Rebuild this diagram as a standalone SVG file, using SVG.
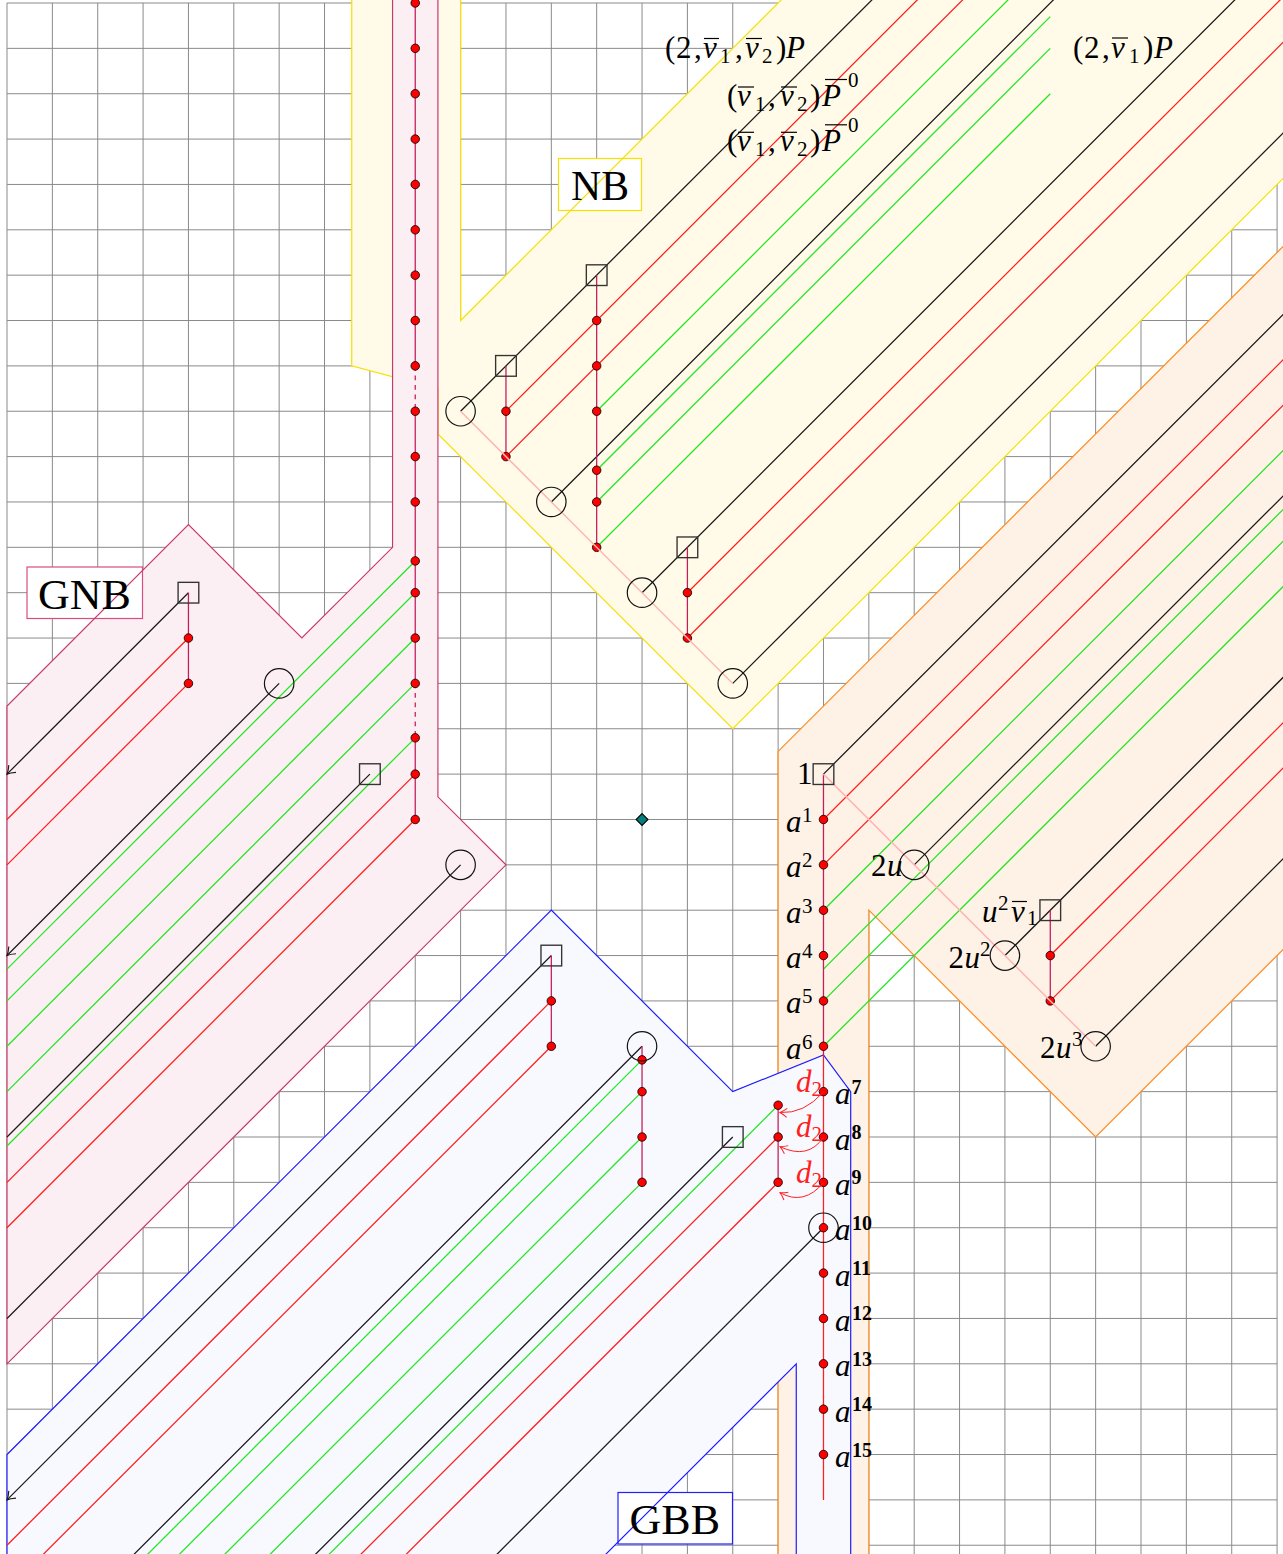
<svg xmlns="http://www.w3.org/2000/svg" width="1283" height="1554" viewBox="0 0 1283 1554">
<style>
.gr{fill:none;stroke:#8a8a8a;stroke-width:0.022px}
.regs{fill:none;stroke-width:0.026px;stroke-linejoin:miter}
.ln path{fill:none;stroke-width:0.028px}
.k{stroke:#1a1a1a}
.r{stroke:#ff1f1f}
.g{stroke:#22e622}
.v{fill:none;stroke:#c41e5a;stroke-width:0.032px}
.vr{fill:none;stroke:#ff2020;stroke-width:0.028px}
.pk{fill:none;stroke:#ffb4b4;stroke-width:0.032px}
.dot{fill:#ff0000;stroke:#000;stroke-width:0.018px}
.sq{fill:none;stroke:#333;stroke-width:0.03px}
.ci{fill:none;stroke:#111;stroke-width:0.026px}
.t{font-family:"Liberation Serif","Times New Roman",serif;font-size:31px;fill:#000}
.i{font-style:italic}
.s{font-size:21px;font-style:normal}
.b{font-size:20px;font-weight:bold;font-style:normal}
.big{font-size:43px}
.bar{stroke:#000;stroke-width:1.2}
.red{fill:#ff2020}
</style>
<defs>
<circle id="d" r="0.094"/>
<rect id="q" x="-0.228" y="-0.228" width="0.456" height="0.456"/>
<circle id="o" r="0.325"/>
<marker id="ak" viewBox="-9 -6 11 12" refX="0" refY="0" markerWidth="11" markerHeight="12" orient="auto" markerUnits="strokeWidth" overflow="visible">
<path d="M-6,-4 Q-2.6,-1 0,0 Q-2.6,1 -6,4" fill="none" stroke="#1a1a1a" stroke-width="0.9"/>
</marker>
<marker id="ar" viewBox="-9 -6 11 12" refX="0" refY="0" markerWidth="11" markerHeight="12" orient="auto" markerUnits="strokeWidth" overflow="visible">
<path d="M-7,-4.5 Q-3,-1.2 0,0 Q-3,1.2 -7,4.5" fill="none" stroke="#ff2020" stroke-width="1"/>
</marker>
</defs>
<rect width="1283" height="1554" fill="#ffffff"/>
<g id="layer1" transform="translate(7 3) scale(45.36)">
<path id="grid" class="gr" d="M0 0V34.3M1 0V34.3M2 0V34.3M3 0V34.3M4 0V34.3M5 0V34.3M6 0V34.3M7 0V34.3M8 0V34.3M9 0V34.3M10 0V34.3M11 0V34.3M12 0V34.3M13 0V34.3M14 0V34.3M15 0V34.3M16 0V34.3M17 0V34.3M18 0V34.3M19 0V34.3M20 0V34.3M21 0V34.3M22 0V34.3M23 0V34.3M24 0V34.3M25 0V34.3M26 0V34.3M27 0V34.3M28 0V34.3M0 0H28M0 1H28M0 2H28M0 3H28M0 4H28M0 5H28M0 6H28M0 7H28M0 8H28M0 9H28M0 10H28M0 11H28M0 12H28M0 13H28M0 14H28M0 15H28M0 16H28M0 17H28M0 18H28M0 19H28M0 20H28M0 21H28M0 22H28M0 23H28M0 24H28M0 25H28M0 26H28M0 27H28M0 28H28M0 29H28M0 30H28M0 31H28M0 32H28M0 33H28M0 34H28"/>
<polygon id="NB-fill" fill="#fffbe8" points="7.6,-1 10,-1 10,7 18,-1 34,-2 16,16 9.5,9.5 9.5,8.51 7.6,8"/>
</g>
<rect id="NB-box" x="558.5" y="158.5" width="83" height="52" fill="#ffffff" stroke="#f5e000" stroke-width="1.2"/>
<g id="layer2" transform="translate(7 3) scale(45.36)">
<polygon id="NB-edge" class="regs" stroke="#f5e000" points="7.6,-1 10,-1 10,7 18,-1 34,-2 16,16 9.5,9.5 9.5,8.51 7.6,8"/>
<polygon id="GNB-fill" fill="#fbeff3" points="8.5,-1 8.5,12 6.5,14 4,11.5 0,15.5 0,30 11,19 9.5,17.5 9.5,-1"/>
</g>
<rect id="GNB-box" x="27" y="567" width="115.5" height="51.5" fill="#ffffff" stroke="#d94c82" stroke-width="1.2"/>
<g id="layer3" transform="translate(7 3) scale(45.36)">
<polygon id="GNB-edge" class="regs" stroke="#c8386a" points="8.5,-1 8.5,12 6.5,14 4,11.5 0,15.5 0,30 11,19 9.5,17.5 9.5,-1"/>
<polygon id="OR-fill" fill="#fef1e5" points="17,36 17,16.5 31,2.5 31,18 24,25 19,20 19,36"/>
<polygon id="OR-edge" class="regs" stroke="#ff8a1e" points="17,36 17,16.5 31,2.5 31,18 24,25 19,20 19,36"/>
<polygon id="GBB-fill" fill="#f8f8ff" points="0,32 12,20 16,24 18,23.19 18.6,24 18.6,36 17.4,36 17.4,30 11.4,36 0,36"/>
</g>
<rect id="GBB-box" x="618" y="1492.5" width="114.5" height="51.5" fill="#ffffff" stroke="#2020ff" stroke-width="1.2"/>
<g id="layer4" transform="translate(7 3) scale(45.36)">
<polygon id="GBB-edge" class="regs" stroke="#1a1aff" points="0,32 12,20 16,24 18,23.19 18.6,24 18.6,36 17.4,36 17.4,30 11.4,36 0,36"/>
<g id="connectors" class="ln">
<path class="k" d="M4 13L0 17" marker-end="url(#ak)"/>
<path class="k" d="M6 15L0 21" marker-end="url(#ak)"/>
<path class="k" d="M8 17L0 25"/>
<path class="k" d="M10 19L0 29"/>
<path class="r" d="M4 14L0 18M4 15L0 19M9 17L0 26M9 18L0 27"/>
<path class="g" d="M9 12.3L0 21.3M9 13L0 22M9 14L0 23M9 15L0 24M9 16.2L0 25.2"/>
<path class="k" d="M10 9L35 -16M12 11L37 -14M14 13L39 -12M16 15L41 -10"/>
<path class="r" d="M11 9L36 -16M11 10L36 -15M15 13L40 -12M15 14L40 -11"/>
<path class="g" d="M13 9L38 -16M13 10.3L23 0.3M13 11L23 1M13 12L23 2"/>
<path class="k" d="M18 17L43 -8M20 19L45 -6M22 21L47 -4M24 23L49 -2"/>
<path class="r" d="M18 18L43 -7M18 19L43 -6M23 21L48 -4M23 22L48 -3"/>
<path class="g" d="M18 20L43 -5M18 21.3L43 -3.7M18 22L43 -3M18 23L43 -2"/>
<path class="k" d="M12 21L0 33" marker-end="url(#ak)"/>
<path class="k" d="M14 23L0 37M16 25L0 41M18 27L0 45"/>
<path class="r" d="M12 22L0 34M12 23L0 35M17 25L0 42M17 26L0 43"/>
<path class="g" d="M14 23.3L0 37.3M14 24L0 38M14 25L0 39M14 26L0 40M17 24.3L0 41.3"/>
<path class="v" d="M9 -0.2V8M9 9V15M9 16.2V18M4 13V15M11 8V10M13 6V12M15 12V14M18 17V23.2M23 20V22M12 21V23M14 23V26M17 24.3V26"/>
<path class="v" stroke-dasharray="0.105 0.105" d="M9 8V9M9 15V16.2"/>
<path class="vr" d="M18 23.2V33"/>
</g>
<g id="nodes-gnb">
<use href="#d" class="dot" x="4" y="14"/><use href="#d" class="dot" x="4" y="15"/>
<use href="#d" class="dot" x="9" y="0"/><use href="#d" class="dot" x="9" y="1"/><use href="#d" class="dot" x="9" y="2"/><use href="#d" class="dot" x="9" y="3"/><use href="#d" class="dot" x="9" y="4"/><use href="#d" class="dot" x="9" y="5"/><use href="#d" class="dot" x="9" y="6"/><use href="#d" class="dot" x="9" y="7"/><use href="#d" class="dot" x="9" y="8"/><use href="#d" class="dot" x="9" y="9"/><use href="#d" class="dot" x="9" y="10"/><use href="#d" class="dot" x="9" y="11"/><use href="#d" class="dot" x="9" y="12.3"/><use href="#d" class="dot" x="9" y="13"/><use href="#d" class="dot" x="9" y="14"/><use href="#d" class="dot" x="9" y="15"/><use href="#d" class="dot" x="9" y="16.2"/><use href="#d" class="dot" x="9" y="17"/><use href="#d" class="dot" x="9" y="18"/>
<use href="#q" class="sq" x="4" y="13"/><use href="#q" class="sq" x="8" y="17"/>
<use href="#o" class="ci" x="6" y="15"/><use href="#o" class="ci" x="10" y="19"/>
</g>
<g id="nodes-nb">
<use href="#d" class="dot" x="11" y="9"/><use href="#d" class="dot" x="11" y="10"/><use href="#d" class="dot" x="13" y="7"/><use href="#d" class="dot" x="13" y="8"/><use href="#d" class="dot" x="13" y="9"/><use href="#d" class="dot" x="13" y="10.3"/><use href="#d" class="dot" x="13" y="11"/><use href="#d" class="dot" x="13" y="12"/><use href="#d" class="dot" x="15" y="13"/><use href="#d" class="dot" x="15" y="14"/>
<path class="pk" d="M10 9L16 15"/>
<use href="#q" class="sq" x="11" y="8"/><use href="#q" class="sq" x="13" y="6"/><use href="#q" class="sq" x="15" y="12"/>
<use href="#o" class="ci" x="10" y="9"/><use href="#o" class="ci" x="12" y="11"/><use href="#o" class="ci" x="14" y="13"/><use href="#o" class="ci" x="16" y="15"/>
</g>
<g id="nodes-orange">
<use href="#d" class="dot" x="18" y="18"/><use href="#d" class="dot" x="18" y="19"/><use href="#d" class="dot" x="18" y="20"/><use href="#d" class="dot" x="18" y="21"/><use href="#d" class="dot" x="18" y="22"/><use href="#d" class="dot" x="18" y="23"/><use href="#d" class="dot" x="23" y="21"/><use href="#d" class="dot" x="23" y="22"/>
<path class="pk" d="M18 17L24 23"/>
<use href="#q" class="sq" x="18" y="17"/><use href="#q" class="sq" x="23" y="20"/>
<use href="#o" class="ci" x="20" y="19"/><use href="#o" class="ci" x="22" y="21"/><use href="#o" class="ci" x="24" y="23"/>
</g>
<g id="nodes-gbb">
<use href="#d" class="dot" x="12" y="22"/><use href="#d" class="dot" x="12" y="23"/><use href="#d" class="dot" x="14" y="23.3"/><use href="#d" class="dot" x="14" y="24"/><use href="#d" class="dot" x="14" y="25"/><use href="#d" class="dot" x="14" y="26"/><use href="#d" class="dot" x="17" y="24.3"/><use href="#d" class="dot" x="17" y="25"/><use href="#d" class="dot" x="17" y="26"/>
<use href="#d" class="dot" x="18" y="24"/><use href="#d" class="dot" x="18" y="25"/><use href="#d" class="dot" x="18" y="26"/><use href="#d" class="dot" x="18" y="27"/><use href="#d" class="dot" x="18" y="28"/><use href="#d" class="dot" x="18" y="29"/><use href="#d" class="dot" x="18" y="30"/><use href="#d" class="dot" x="18" y="31"/><use href="#d" class="dot" x="18" y="32"/>
<use href="#q" class="sq" x="12" y="21"/><use href="#q" class="sq" x="16" y="25"/>
<use href="#o" class="ci" x="14" y="23"/><use href="#o" class="ci" x="18" y="27"/>
</g>
<g id="center">
<polygon points="14,17.87 14.13,18 14,18.13 13.87,18" fill="#008080" stroke="#000" stroke-width="0.025px"/>
</g>
</g>
<g id="d2-arrows" fill="none" stroke="#ff2020" stroke-width="1">
<path d="M823.5,1092 Q804,1114 780,1112.5" marker-end="url(#ar)"/>
<path d="M823.5,1137.3 Q808,1160 780,1146.7" marker-end="url(#ar)"/>
<path d="M823.5,1182.6 Q804,1206 780,1192.7" marker-end="url(#ar)"/>
</g>
<g id="labels" class="t">
<text class="big" x="571" y="200" textLength="58" lengthAdjust="spacingAndGlyphs">NB</text>
<text class="big" x="38" y="609" textLength="93" lengthAdjust="spacingAndGlyphs">GNB</text>
<text class="big" x="629.5" y="1534" textLength="90.5" lengthAdjust="spacingAndGlyphs">GBB</text>
<text y="58"><tspan x="665">(</tspan><tspan x="676">2</tspan><tspan x="694">,</tspan><tspan x="703" class="i">v</tspan><tspan x="720" y="63" class="s">1</tspan><tspan x="735" y="58">,</tspan><tspan x="745" class="i">v</tspan><tspan x="762" y="63" class="s">2</tspan><tspan x="776" y="58">)</tspan><tspan x="786" class="i">P</tspan></text>
<text y="58"><tspan x="1073">(</tspan><tspan x="1084">2</tspan><tspan x="1102">,</tspan><tspan x="1111" class="i">v</tspan><tspan x="1129" y="63" class="s">1</tspan><tspan x="1143" y="58">)</tspan><tspan x="1154" class="i">P</tspan></text>
<text y="106"><tspan x="727">(</tspan><tspan x="737" class="i">v</tspan><tspan x="755" y="111" class="s">1</tspan><tspan x="768" y="106">,</tspan><tspan x="780" class="i">v</tspan><tspan x="797" y="111" class="s">2</tspan><tspan x="810" y="106">)</tspan><tspan x="822" class="i">P</tspan><tspan x="848" y="87" class="s">0</tspan></text>
<text y="151.3"><tspan x="727">(</tspan><tspan x="737" class="i">v</tspan><tspan x="755" y="156.3" class="s">1</tspan><tspan x="768" y="151.3">,</tspan><tspan x="780" class="i">v</tspan><tspan x="797" y="156.3" class="s">2</tspan><tspan x="810" y="151.3">)</tspan><tspan x="822" class="i">P</tspan><tspan x="848" y="132.3" class="s">0</tspan></text>
<text x="797" y="784">1</text>
<text y="832"><tspan x="786" class="i">a</tspan><tspan x="802" y="822" class="s">1</tspan></text>
<text y="877.3"><tspan x="786" class="i">a</tspan><tspan x="802" y="867.3" class="s">2</tspan></text>
<text y="922.7"><tspan x="786" class="i">a</tspan><tspan x="802" y="912.7" class="s">3</tspan></text>
<text y="968.1"><tspan x="786" class="i">a</tspan><tspan x="802" y="958.1" class="s">4</tspan></text>
<text y="1013.4"><tspan x="786" class="i">a</tspan><tspan x="802" y="1003.4" class="s">5</tspan></text>
<text y="1058.8"><tspan x="786" class="i">a</tspan><tspan x="802" y="1048.8" class="s">6</tspan></text>
<text y="875.5"><tspan x="871">2</tspan><tspan x="887" class="i">u</tspan></text>
<text y="921.5"><tspan x="982" class="i">u</tspan><tspan x="998" y="910" class="s">2</tspan><tspan x="1011" y="921.5" class="i">v</tspan><tspan x="1027" y="925" class="s">1</tspan></text>
<text y="967.5"><tspan x="948.5">2</tspan><tspan x="964.5" class="i">u</tspan><tspan x="980" y="956" class="s">2</tspan></text>
<text y="1057.5"><tspan x="1040">2</tspan><tspan x="1056" class="i">u</tspan><tspan x="1072" y="1046" class="s">3</tspan></text>
<text y="1104.1"><tspan x="835" class="i">a</tspan><tspan x="851.5" y="1093.6" class="b">7</tspan></text>
<text y="1149.5"><tspan x="835" class="i">a</tspan><tspan x="851.5" y="1139" class="b">8</tspan></text>
<text y="1194.9"><tspan x="835" class="i">a</tspan><tspan x="851.5" y="1184.4" class="b">9</tspan></text>
<text y="1240.2"><tspan x="835" class="i">a</tspan><tspan x="852" y="1229.7" class="b">10</tspan></text>
<text y="1285.6"><tspan x="835" class="i">a</tspan><tspan x="852" y="1275.1" class="b">11</tspan></text>
<text y="1330.9"><tspan x="835" class="i">a</tspan><tspan x="852" y="1320.4" class="b">12</tspan></text>
<text y="1376.3"><tspan x="835" class="i">a</tspan><tspan x="852" y="1365.8" class="b">13</tspan></text>
<text y="1421.7"><tspan x="835" class="i">a</tspan><tspan x="852" y="1411.2" class="b">14</tspan></text>
<text y="1467"><tspan x="835" class="i">a</tspan><tspan x="852" y="1456.5" class="b">15</tspan></text>
<text class="red" y="1092"><tspan x="796" class="i">d</tspan><tspan x="811.5" y="1096" class="s">2</tspan></text>
<text class="red" y="1137.4"><tspan x="796" class="i">d</tspan><tspan x="811.5" y="1141.4" class="s">2</tspan></text>
<text class="red" y="1182.7"><tspan x="796" class="i">d</tspan><tspan x="811.5" y="1186.7" class="s">2</tspan></text>
</g>
<g id="overbars" class="bar">
<line x1="704" y1="38.5" x2="719" y2="38.5"/><line x1="746" y1="38.5" x2="762" y2="38.5"/>
<line x1="1112" y1="38" x2="1128" y2="38"/>
<line x1="738" y1="87" x2="754" y2="87"/><line x1="781" y1="87" x2="797" y2="87"/><line x1="825" y1="79.5" x2="847" y2="79.5"/>
<line x1="738" y1="132.3" x2="754" y2="132.3"/><line x1="781" y1="132.3" x2="797" y2="132.3"/><line x1="825" y1="124.8" x2="847" y2="124.8"/>
<line x1="1012" y1="901.5" x2="1027" y2="901.5"/>
</g>
</svg>
